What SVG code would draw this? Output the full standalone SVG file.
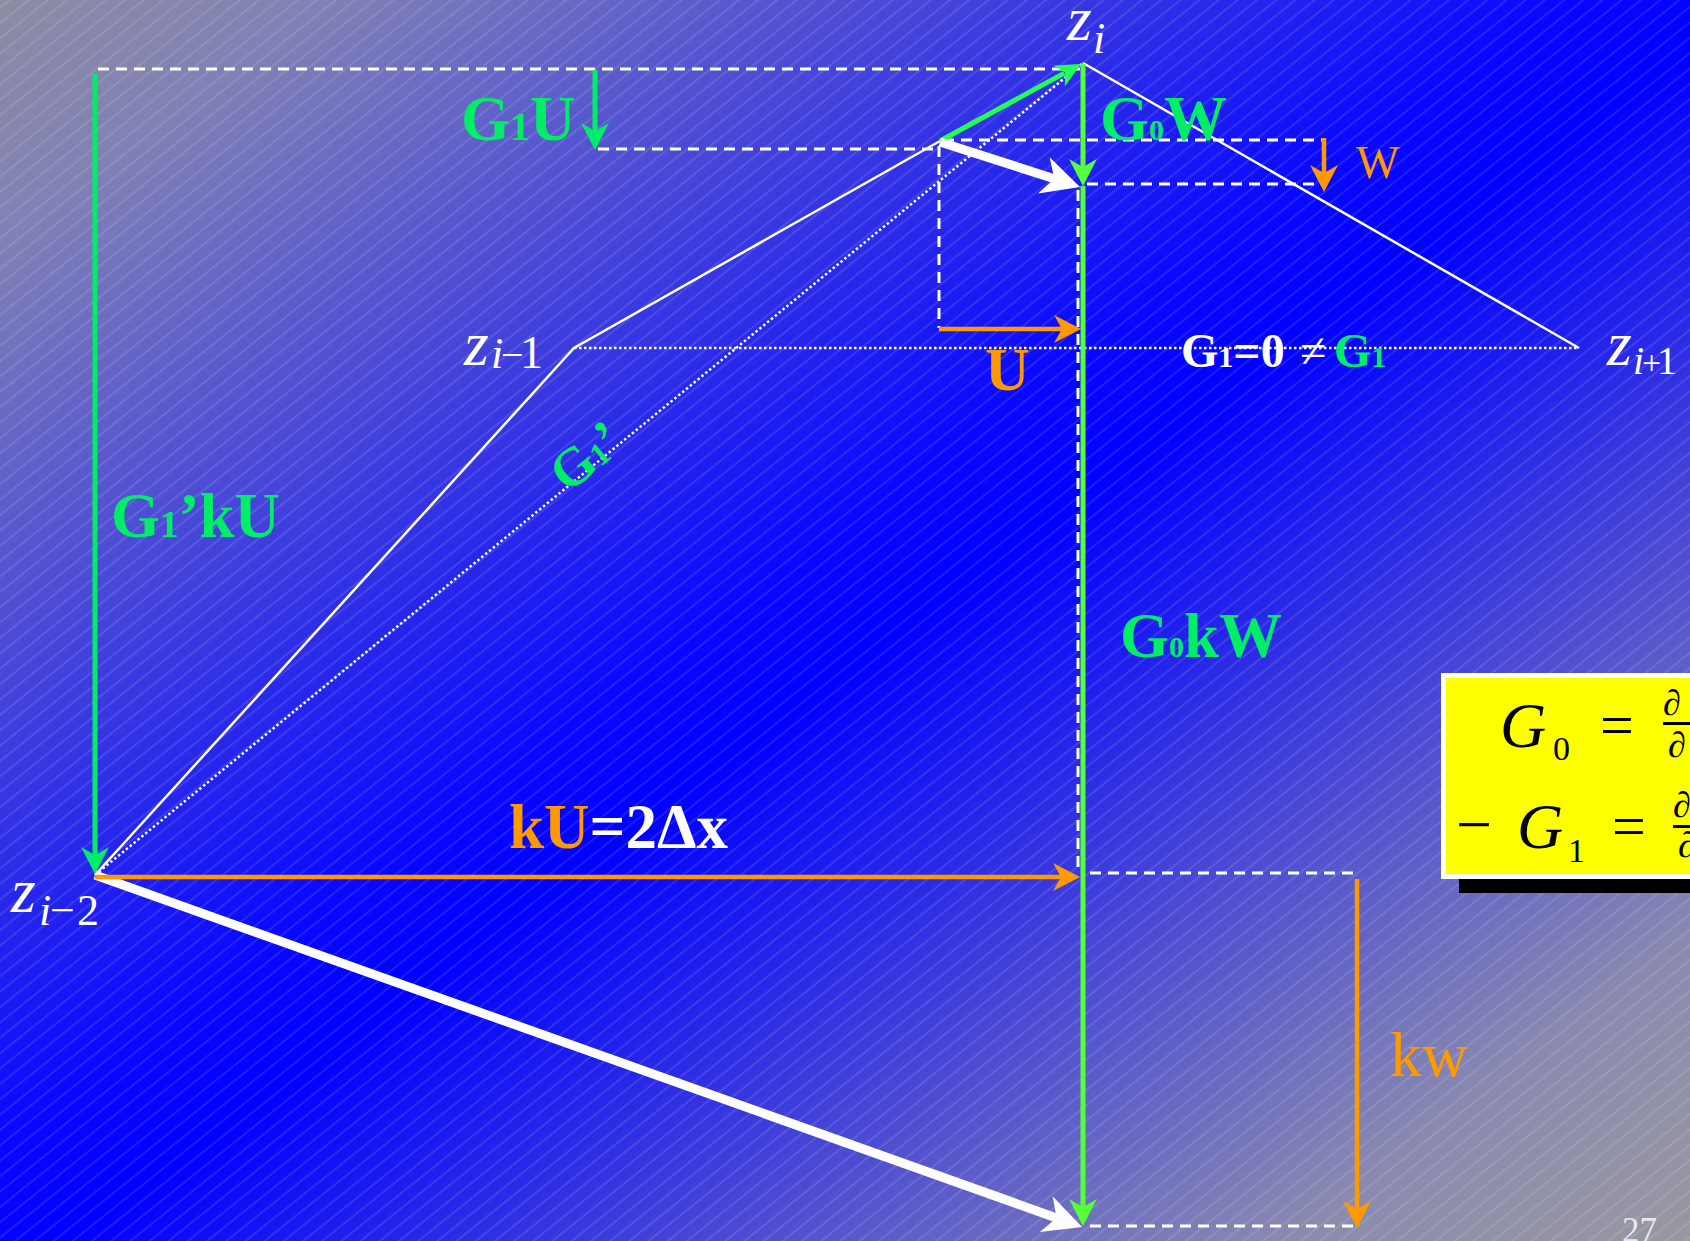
<svg xmlns="http://www.w3.org/2000/svg" width="1690" height="1241" viewBox="0 0 1690 1241">
<defs>
<linearGradient id="bg" x1="0" y1="0" x2="1" y2="1">
<stop offset="0" stop-color="#8c8ca4"/>
<stop offset="0.1" stop-color="#8080b6"/>
<stop offset="0.46" stop-color="#0808ff"/>
<stop offset="0.52" stop-color="#0000ff"/>
<stop offset="0.88" stop-color="#8a8ab0"/>
<stop offset="1" stop-color="#9898a0"/>
</linearGradient>
<pattern id="hatch" patternUnits="userSpaceOnUse" width="40" height="12" patternTransform="rotate(-38.7)">
<line x1="0" y1="6" x2="40" y2="6" stroke="#ffffff" stroke-opacity="0.22" stroke-width="1"/>
</pattern>
<marker id="mG" markerUnits="userSpaceOnUse" viewBox="-30 -15 32 30" markerWidth="32" markerHeight="30" refX="-19" refY="0" orient="auto">
<path d="M0,0 L-27,-14 L-19,0 L-27,14 Z" fill="#00ee66"/>
</marker>
<marker id="mV" markerUnits="userSpaceOnUse" viewBox="-30 -15 32 30" markerWidth="32" markerHeight="30" refX="-19" refY="0" orient="auto">
<path d="M0,0 L-27,-14 L-19,0 L-27,14 Z" fill="#55ff3a"/>
</marker>
<marker id="mS" markerUnits="userSpaceOnUse" viewBox="-30 -15 32 30" markerWidth="32" markerHeight="30" refX="-19" refY="0" orient="auto">
<path d="M0,0 L-25,-12 L-18,0 L-25,12 Z" fill="#22ff55"/>
</marker>
<marker id="mO" markerUnits="userSpaceOnUse" viewBox="-30 -15 32 30" markerWidth="32" markerHeight="30" refX="-19" refY="0" orient="auto">
<path d="M0,0 L-27,-14 L-19,0 L-27,14 Z" fill="#ff9900"/>
</marker>
<marker id="mW" markerUnits="userSpaceOnUse" viewBox="-42 -22 44 44" markerWidth="44" markerHeight="44" refX="-27" refY="0" orient="auto">
<path d="M0,0 L-38,-19 L-27,0 L-38,19 Z" fill="#ffffff"/>
</marker>
</defs>
<style>
.ser { font-family: "Liberation Serif", "Times New Roman", serif; }
.b { font-weight: bold; }
.it { font-style: italic; }
.gr { fill: #00ee66; }
.or { fill: #ff9900; }
.wh { fill: #ffffff; }
.bk { fill: #000000; }
.thin { stroke: #ffffff; stroke-width: 2.5; fill: none; }
.dash { stroke: #ffffff; stroke-width: 3; stroke-dasharray: 11 7; fill: none; }
.dot { stroke: #ffffff; stroke-width: 2.5; stroke-dasharray: 2.5 2.5; fill: none; }
.ag { stroke: #00ee66; stroke-width: 5; fill: none; }
.av { stroke: #55ff3a; stroke-width: 5; fill: none; }
.as { stroke: #22ff55; stroke-width: 5; fill: none; }
.ao { stroke: #ff9900; stroke-width: 4.5; fill: none; }
.aw { stroke: #ffffff; stroke-width: 9; fill: none; }
</style>
<rect x="0" y="0" width="1690" height="1241" fill="url(#bg)"/>
<rect x="0" y="0" width="1690" height="1241" fill="url(#hatch)"/>

<g id="connectors">
<line class="dash" x1="98" y1="69" x2="1080" y2="69"/>
<line class="dash" x1="598" y1="149" x2="937" y2="149"/>
<line class="dash" x1="943" y1="140" x2="1322" y2="140"/>
<line class="dash" x1="1087" y1="184" x2="1322" y2="184"/>
<line class="dash" x1="939" y1="146" x2="939" y2="328"/>
<line class="dash" x1="1078" y1="190" x2="1078" y2="873"/>
<line class="dash" x1="1090" y1="873" x2="1355" y2="873"/>
<line class="dash" x1="1090" y1="1226" x2="1355" y2="1226"/>
<line class="dot" x1="95" y1="875" x2="1083" y2="63"/>
<line class="dot" x1="574" y1="348" x2="1579" y2="348"/>
<polyline class="thin" points="95,875 574,348 940,141"/>
<line class="thin" x1="1083" y1="63" x2="1579" y2="348"/>
<line class="ag" x1="95" y1="74" x2="95" y2="855" marker-end="url(#mG)"/>
<line class="ag" x1="595" y1="70" x2="595" y2="131" marker-end="url(#mG)"/>
<line class="as" x1="940" y1="141" x2="1064.3" y2="73.1" marker-end="url(#mS)"/>
<line class="av" x1="1083" y1="64" x2="1083" y2="167" marker-end="url(#mV)"/>
<line class="av" x1="1083" y1="186" x2="1083" y2="1207" marker-end="url(#mV)"/>
<line class="aw" x1="940" y1="142" x2="1054.3" y2="178.7" marker-end="url(#mW)"/>
<line class="aw" x1="95" y1="875" x2="1056.6" y2="1217.9" marker-end="url(#mW)"/>
<line class="ao" x1="939" y1="329" x2="1062" y2="329" marker-end="url(#mO)"/>
<line class="ao" x1="95" y1="877" x2="1061" y2="877" marker-end="url(#mO)"/>
<line class="ao" x1="1324" y1="138" x2="1324" y2="173" marker-end="url(#mO)"/>
<line class="ao" x1="1357" y1="879" x2="1357" y2="1209" marker-end="url(#mO)"/>
</g>

<g id="node-zi">
<text class="ser wh"><tspan class="it" x="1067" y="40" font-size="64">z</tspan><tspan class="it" x="1093" y="53" font-size="44">i</tspan></text>
</g>
<g id="node-zim1">
<text class="ser wh"><tspan class="it" x="464" y="365" font-size="64">z</tspan><tspan class="it" x="491" y="368" font-size="44">i</tspan><tspan x="501" y="368" font-size="40">−</tspan><tspan x="520" y="368" font-size="46">1</tspan></text>
</g>
<g id="node-zip1">
<text class="ser wh"><tspan class="it" x="1607" y="365" font-size="64">z</tspan><tspan class="it" x="1633" y="374" font-size="40">i</tspan><tspan x="1642" y="374" font-size="34">+</tspan><tspan x="1657" y="374" font-size="40">1</tspan></text>
</g>
<g id="node-zim2">
<text class="ser wh"><tspan class="it" x="11" y="912" font-size="64">z</tspan><tspan class="it" x="39" y="925" font-size="44">i</tspan><tspan x="50" y="925" font-size="44">−</tspan><tspan x="77" y="925" font-size="44">2</tspan></text>
</g>

<g id="label-G1U">
<text class="ser b gr" x="461" y="140" font-size="63">G<tspan font-size="40">1</tspan>U</text>
</g>
<g id="label-G0W">
<text class="ser b gr" x="1100" y="140" font-size="63">G<tspan font-size="30">0</tspan>W</text>
</g>
<g id="label-W">
<text class="ser or" x="1356" y="178" font-size="46">W</text>
</g>
<g id="label-U">
<text class="ser b or" x="985" y="390" font-size="62">U</text>
</g>
<g id="label-G1eq">
<text class="ser b wh" x="1181" y="367" font-size="48">G<tspan font-size="30">1</tspan>=0<tspan x="1300" font-weight="normal">≠</tspan><tspan x="1334" class="gr">G</tspan><tspan class="gr" font-size="30">1</tspan></text>
</g>
<g id="label-G1p">
<text class="ser b gr" transform="translate(568,494) rotate(-39.4)" font-size="54">G<tspan font-size="32">1</tspan>’</text>
</g>
<g id="label-G1pkU">
<text class="ser b gr" x="111" y="537" font-size="63">G<tspan font-size="37">1</tspan>’kU</text>
</g>
<g id="label-G0kW">
<text class="ser b gr" x="1120" y="657" font-size="63">G<tspan font-size="30">0</tspan>kW</text>
</g>
<g id="label-kU">
<text class="ser b wh" x="509" y="848" font-size="63"><tspan class="or">kU</tspan>=2Δx</text>
</g>
<g id="label-kw">
<text class="ser or" x="1390" y="1076" font-size="64">kw</text>
</g>

<g id="formula-box">
<rect x="1459" y="879" width="240" height="14" fill="#000000"/>
<rect x="1443.5" y="675.5" width="260" height="201" fill="#ffff00" stroke="#ffffff" stroke-width="5"/>
<text class="ser it bk" x="1500" y="747" font-size="64">G</text>
<text class="ser bk" x="1553" y="760" font-size="34">0</text>
<text class="ser bk" x="1600" y="745" font-size="60">=</text>
<text class="ser it bk" x="1663" y="715" font-size="36">∂</text>
<rect x="1663" y="722" width="30" height="3" fill="#000000"/>
<text class="ser it bk" x="1668" y="757" font-size="36">∂</text>
<text class="ser bk" x="1456" y="846" font-size="64">−</text>
<text class="ser it bk" x="1517" y="848" font-size="64">G</text>
<text class="ser bk" x="1568" y="862" font-size="34">1</text>
<text class="ser bk" x="1612" y="846" font-size="60">=</text>
<text class="ser it bk" x="1673" y="817" font-size="36">∂</text>
<rect x="1673" y="825" width="20" height="3" fill="#000000"/>
<text class="ser it bk" x="1678" y="857" font-size="36">∂</text>
</g>

<g id="page-number">
<text class="ser" x="1622" y="1242" font-size="35" fill="#e8e8f0">27</text>
</g>
</svg>
